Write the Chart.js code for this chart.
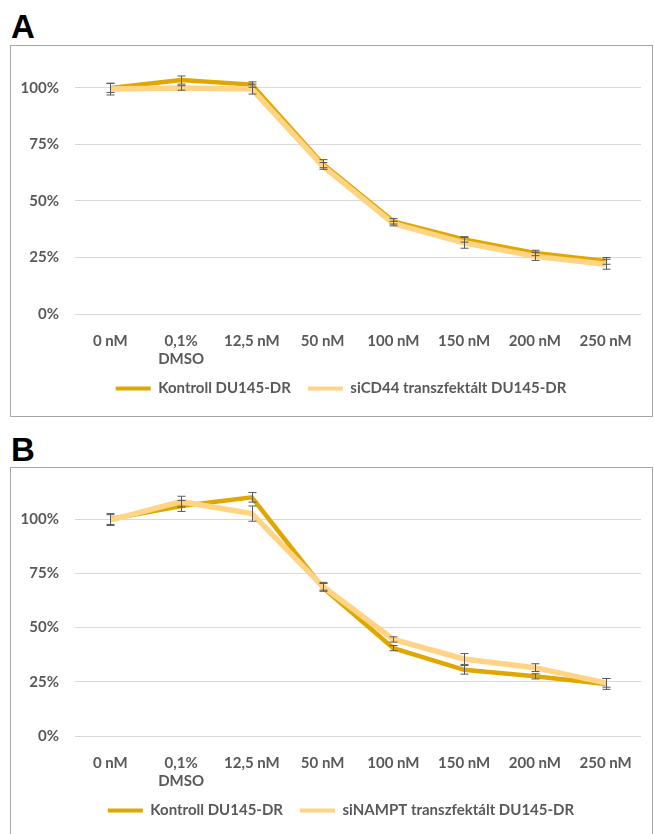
<!DOCTYPE html>
<html>
<head>
<meta charset="utf-8">
<script src="https://cdn.jsdelivr.net/npm/chart.js@4.4.1/dist/chart.umd.min.js"></script>
<style>
  *{padding:0; margin:0;}
  body{background:#fff; width:654px; height:834px; overflow:hidden; position:relative;}
  .tag{position:absolute; left:11px; font-family:"Liberation Sans", Arial, sans-serif; font-size:33px; font-weight:bold; line-height:33px; color:#000;}
  .box{position:absolute; left:10px; width:641px; height:370px; border:1px solid #a6a6a6; background:#fff;}
  .box canvas{display:block;}
</style>
</head>
<body>
<div class="tag" style="top:10px">A</div>
<div class="box" style="top:45px"><canvas id="chartA" width="641" height="370"></canvas></div>
<div class="tag" style="top:433px">B</div>
<div class="box" style="top:467px"><canvas id="chartB" width="641" height="370"></canvas></div>
<script>
// doses on the x axis
var doses = ['0 nM', ['0,1%', 'DMSO'], '12,5 nM', '50 nM', '100 nM', '150 nM', '200 nM', '250 nM'];

// panel A: Kontroll vs siCD44 (% viability, with error)
var kontrollA    = [100, 103.5, 101.5, 66.5, 41, 33, 27, 23.5];
var kontrollAErr = [2, 1.8, 1.2, 1.8, 1.2, 1.2, 1.2, 1.5];
var siCD44A      = [99.5, 100, 99.5, 65.5, 40, 31.5, 25.5, 22];
var siCD44AErr   = [2.6, 1, 2.2, 1.5, 1, 2.4, 1.8, 2.2];

// panel B: Kontroll vs siNAMPT
var kontrollB    = [100, 106, 110, 68.5, 40.5, 30.5, 27.5, 24];
var kontrollBErr = [2.5, 2.5, 2.2, 1.8, 1.2, 2, 1.2, 2.5];
var siNAMPTB     = [99.5, 108, 102.5, 69, 44.5, 35.5, 31.5, 24.5];
var siNAMPTBErr  = [2.5, 2.5, 3.5, 1.8, 1.2, 2.5, 1.8, 2];

var darkGold = '#DFA700';
var lightGold = '#FFD485';
var textGrey = '#595959';

Chart.defaults.font.family = 'Lato';
Chart.defaults.font.size = 15;
Chart.defaults.font.weight = 'bold';
Chart.defaults.color = textGrey;

var errorBars = {
    id: 'errorBars',
    afterDatasetsDraw: function(chart) {
        var ctx = chart.ctx, y = chart.scales.y;
        ctx.save();
        ctx.strokeStyle = textGrey;
        ctx.lineWidth = 1;
        chart.data.datasets.forEach(function(ds, i) {
            var meta = chart.getDatasetMeta(i);
            meta.data.forEach(function(pt, j) {
                var top = y.getPixelForValue(ds.data[j] + ds.errors[j]);
                var bot = y.getPixelForValue(ds.data[j] - ds.errors[j]);
                var x = Math.round(pt.x) + 0.5;
                ctx.beginPath();
                ctx.moveTo(x, top); ctx.lineTo(x, bot);
                ctx.moveTo(x - 4, top); ctx.lineTo(x + 4, top);
                ctx.moveTo(x - 4, bot); ctx.lineTo(x + 4, bot);
                ctx.stroke();
            });
        });
        ctx.restore();
    }
};

// nudge the legend a bit right, like the original
var legendShift = {
    id: 'legendShift',
    afterLayout: function(chart) {
        chart.legend.left += 15;
        chart.legend.right += 15;
    }
};

function makeChart(id, kontroll, kErr, other, oErr, otherName, yMax) {
    var ctx = document.getElementById(id).getContext('2d');
    return new Chart(ctx, {
        type: 'line',
        data: {
            labels: doses,
            datasets: [{
                label: 'Kontroll DU145-DR',
                data: kontroll,
                errors: kErr,
                borderColor: darkGold,
                backgroundColor: darkGold,
                borderWidth: 4.5,
                pointRadius: 0,
                tension: 0,
                order: 2
            }, {
                label: otherName,
                data: other,
                errors: oErr,
                borderColor: lightGold,
                backgroundColor: lightGold,
                borderWidth: 5.5,
                pointRadius: 0,
                tension: 0,
                order: 1
            }]
        },
        options: {
            responsive: false,
            animation: false,
            layout: {padding: {top: 12, right: 11, bottom: 10, left: 0}},
            plugins: {
                tooltip: {enabled: false},
                legend: {
                    position: 'bottom',
                    labels: {
                        boxWidth: 35,
                        boxHeight: 4,
                        padding: 17,
                        sort: function(a, b) { return a.datasetIndex - b.datasetIndex; },
                        generateLabels: function(chart) {
                            var items = Chart.defaults.plugins.legend.labels.generateLabels(chart);
                            items.forEach(function(it) {
                                it.lineWidth = 0;
                                it.fillStyle = it.strokeStyle;
                            });
                            return items;
                        }
                    }
                }
            },
            scales: {
                x: {
                    offset: true,
                    grid: {display: false, drawTicks: false},
                    border: {display: false},
                    afterFit: function(axis) { axis.height = axis.height - 22; },
                    ticks: {padding: 18, maxRotation: 0, autoSkip: false}
                },
                y: {
                    min: 0,
                    max: yMax,
                    grid: {color: '#d9d9d9', drawTicks: false},
                    border: {display: false},
                    afterFit: function(axis) { axis.width = 64; },
                    ticks: {
                        stepSize: 25,
                        includeBounds: false,
                        padding: 16,
                        callback: function(v) { return v + '%'; }
                    }
                }
            }
        },
        plugins: [errorBars, legendShift]
    });
}

makeChart('chartA', kontrollA, kontrollAErr, siCD44A, siCD44AErr, 'siCD44 transzfektált DU145-DR', 107.5);
makeChart('chartB', kontrollB, kontrollBErr, siNAMPTB, siNAMPTBErr, 'siNAMPT transzfektált DU145-DR', 112);
</script>
</body>
</html>
